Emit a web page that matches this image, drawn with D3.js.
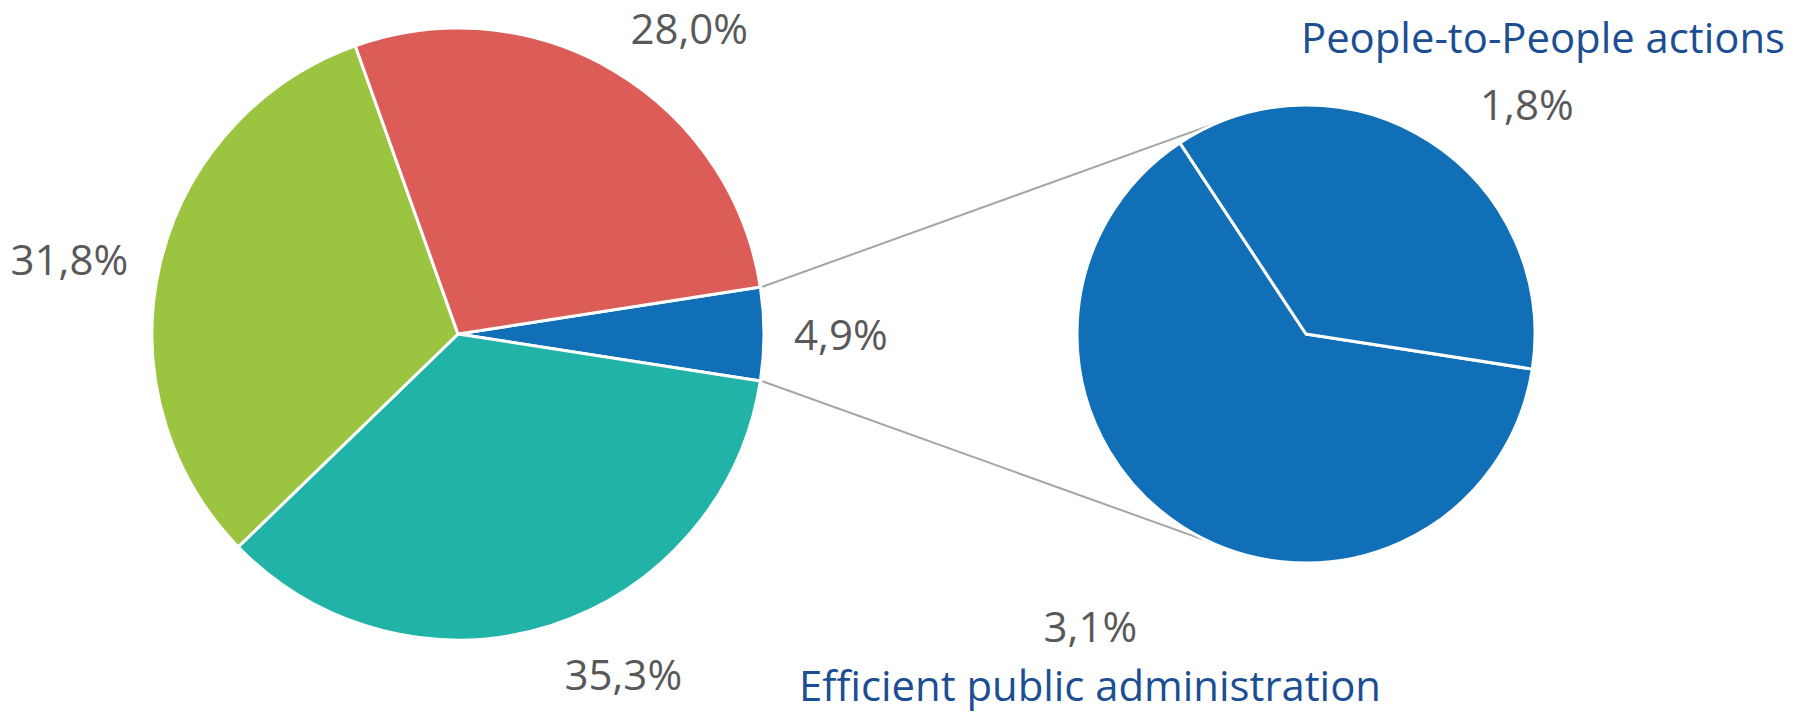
<!DOCTYPE html>
<meta charset="utf-8">
<style>
    body {
        margin: 0;
        background: #fff;
    }

    .slice {
        stroke: #fff;
        stroke-width: 3;
        stroke-linejoin: round;
    }

    .connector {
        stroke: #a6a6a6;
        stroke-width: 2;
        fill: none;
    }

    .value {
        font: 42px "Open Sans", sans-serif;
        fill: #595959;
    }

    .title {
        font: 42px "Open Sans", sans-serif;
        fill: #1c4e93;
    }
</style>

<body>
    <script src="https://d3js.org/d3.v7.min.js"></script>
    <script>
        // Data: main pie (the first slice is split out into the second pie)
        var mainValues = [4.9, 35.3, 31.8, 28.0];
        var mainColors = ["#106fb6", "#22b3a8", "#9bc441", "#dc5d58"];

        // Data: second pie
        var subCategories = ["Efficient public administration", "People-to-People actions"];
        var subValues = [3.1, 1.8];
        var subColor = "#106fb6";

        var width = 1803,
            height = 712;

        var svg = d3.select("body").append("svg")
            .attr("width", width)
            .attr("height", height);

        // Layout
        var main = { cx: 458, cy: 334, r: 306 };
        var sub = { cx: 1306, cy: 334, r: 229 };
        var deg = Math.PI / 180;

        var fmt = function (v) {
            return d3.format(".1f")(v).replace(".", ",") + "%";
        };

        // Main pie: split-out slice centred on 3 o'clock
        var total = d3.sum(mainValues);
        var start = Math.PI / 2 - Math.PI * mainValues[0] / total;
        var mainPie = d3.pie().sort(null)
            .startAngle(start)
            .endAngle(start + 2 * Math.PI);
        var mainArcs = mainPie(mainValues);

        // Second pie starts where the split-out slice ends
        var subStart = mainArcs[0].endAngle;
        var subPie = d3.pie().sort(null)
            .startAngle(subStart)
            .endAngle(subStart + 2 * Math.PI);
        var subArcs = subPie(subValues);

        function pt(c, r, a) {
            return [c.cx + r * Math.sin(a), c.cy - r * Math.cos(a)];
        }

        // Connector lines
        var links = [
            [pt(main, main.r + 2, mainArcs[0].startAngle), pt(sub, sub.r, -22.5 * deg)],
            [pt(main, main.r + 2, mainArcs[0].endAngle), pt(sub, sub.r, 204.5 * deg)]
        ];
        svg.append("g")
            .selectAll("line")
            .data(links)
            .enter().append("line")
            .attr("class", "connector")
            .attr("x1", d => d[0][0])
            .attr("y1", d => d[0][1])
            .attr("x2", d => d[1][0])
            .attr("y2", d => d[1][1]);

        var mainArc = d3.arc().innerRadius(0).outerRadius(main.r);
        var subArc = d3.arc().innerRadius(0).outerRadius(sub.r);

        svg.append("g")
            .attr("transform", "translate(" + main.cx + "," + main.cy + ")")
            .selectAll("path")
            .data(mainArcs)
            .enter().append("path")
            .attr("class", "slice")
            .attr("fill", (d, i) => mainColors[i])
            .attr("d", mainArc);

        svg.append("g")
            .attr("transform", "translate(" + sub.cx + "," + sub.cy + ")")
            .selectAll("path")
            .data(subArcs)
            .enter().append("path")
            .attr("class", "slice")
            .attr("fill", subColor)
            .attr("d", subArc);

        // Outside-end labels: the corner of the text box nearest the centre
        // sits on a ring just outside the pie (pad in px, turn in degrees)
        function placeLabels(c, arcs, pads, turns) {
            arcs.forEach(function (d, i) {
                var a = (d.startAngle + d.endAngle) / 2 + turns[i] * deg;
                var p = pt(c, c.r + pads[i], a);
                var t = svg.append("text")
                    .attr("class", "value")
                    .attr("text-anchor", "middle")
                    .text(fmt(d.data));
                var w = t.node().getComputedTextLength();
                var h = 31;
                var s = Math.sin(a),
                    k = -Math.cos(a);
                var sx = Math.abs(s) < 0.1 ? 0 : Math.sign(s);
                var sy = Math.abs(k) < 0.1 ? 0 : Math.sign(k);
                var bx = p[0] + sx * w / 2;
                var by = p[1] + sy * h / 2;
                t.attr("x", bx).attr("y", by + h / 2);
            });
        }
        placeLabels(main, mainArcs, [30, 36, 29, 31], [0, -0.5, -3, 0]);
        placeLabels(sub, subArcs, [95, 47], [-1.3, 6.4]);

        // Category titles for the second pie
        svg.append("text")
            .attr("class", "title")
            .attr("x", 1785)
            .attr("y", 53)
            .attr("text-anchor", "end")
            .attr("textLength", 484)
            .attr("lengthAdjust", "spacingAndGlyphs")
            .text(subCategories[1]);

        svg.append("text")
            .attr("class", "title")
            .attr("x", 799)
            .attr("y", 701)
            .attr("textLength", 582)
            .attr("lengthAdjust", "spacingAndGlyphs")
            .text(subCategories[0]);
    </script>
</body>
